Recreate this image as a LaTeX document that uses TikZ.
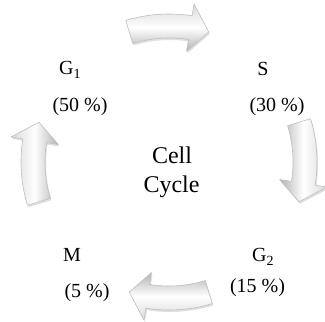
\documentclass[tikz,border=0pt]{standalone}
\usepackage{fontspec}
\setmainfont{Liberation Serif}
\usetikzlibrary{shadows}
\newcommand\cyclearrow[1]{%
  \pgfmathsetmacro\ta{#1+17}%
  \pgfmathsetmacro\tb{#1-9}%
  \pgfmathsetmacro\tt{#1-17}%
  \pgfmathsetmacro\sa{#1-90}%
  \path[arrowbody, shading angle=\sa, shift={(169,160)}]
    (\ta:148) arc[start angle=\ta, end angle=\tb, radius=148]
    -- (\tb:160) -- (\tt:136) -- (\tb:112) -- (\tb:124)
    arc[start angle=\tb, end angle=\ta, radius=124] -- cycle;
}
\begin{document}
\begin{tikzpicture}[x=1pt,y=1pt,
  lab/.style={anchor=base, font=\fontsize{20}{24}\selectfont, inner sep=0pt},
  big/.style={anchor=base, font=\fontsize{24}{29}\selectfont, inner sep=0pt},
  arrowbody/.style={draw=gray!50, line width=0.6pt, line join=round,
    top color=gray!30, bottom color=gray!60, middle color=white,
    drop shadow={shadow xshift=1pt, shadow yshift=-2pt, opacity=0.25}}]
\useasboundingbox (0,0) rectangle (325,322);
\cyclearrow{90}
\cyclearrow{0}
\cyclearrow{-90}
\cyclearrow{180}
\node[lab, anchor=base west] (g1) at (59,247) {G\textsubscript{1}};
\node[lab] (g1p) at (80,210) {(50 \%)};
\node[lab] (s) at (263,246) {S};
\node[lab] (sp) at (277,210) {(30 \%)};
\node[big] (cell) at (172,158) {Cell};
\node[big] (cycle) at (171.5,129) {Cycle};
\node[lab] (m) at (72,60) {M};
\node[lab] (mp) at (87,24) {(5 \%)};
\node[lab, anchor=base west] (g2) at (252,60) {G\textsubscript{2}};
\node[lab] (g2p) at (257.5,29) {(15 \%)};
\end{tikzpicture}
\end{document}
